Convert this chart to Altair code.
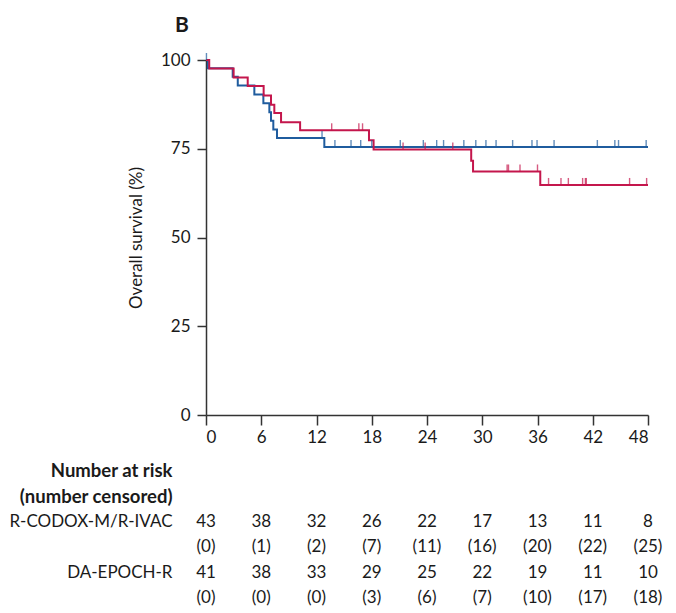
import altair as alt
import pandas as pd

FONT = "Lato"
BLUE = "#1f5c9e"
RED = "#c4164c"
AX = "#333333"
TXT = "#1a1a1a"

arms = ["R-CODOX-M/R-IVAC", "DA-EPOCH-R"]

# Kaplan-Meier step points (months, overall survival %)
codox_t = [0, 0.2, 2.9, 3.45, 5.25, 6.23, 6.88, 7.06, 7.31, 7.71, 12.85, 48]
codox_s = [100, 97.7, 95.3, 92.8, 90.3, 87.8, 85.3, 82.9, 80.4, 78.0, 75.5, 75.5]
epoch_t = [0, 0.35, 3.0, 4.53, 6.26, 7.06, 7.42, 8.15, 10.22, 17.7, 18.2, 28.8, 29.0, 36.3, 48]
epoch_s = [100, 97.6, 95.1, 92.7, 90.0, 87.4, 85.1, 82.5, 80.2, 77.4, 74.8, 71.6, 68.6, 64.8, 64.8]

# censoring times (months)
codox_cens = [0.05, 12.6, 14.0, 15.75, 16.8, 18.0, 21.1, 23.6, 25.05, 25.8, 28.0, 29.3,
              30.4, 31.5, 33.3, 35.4, 35.95, 37.8, 42.5, 44.4, 44.8, 47.8]
epoch_cens = [13.65, 16.6, 17.0, 21.4, 23.8, 26.8, 32.7, 32.85, 34.1, 36.0, 37.2, 38.55,
              39.35, 40.9, 41.2, 41.3, 46.0, 47.85]

# number at risk table
months = [0, 6, 12, 18, 24, 30, 36, 42, 48]
codox_risk = [43, 38, 32, 26, 22, 17, 13, 11, 8]
codox_censored = [0, 1, 2, 7, 11, 16, 20, 22, 25]
epoch_risk = [41, 38, 33, 29, 25, 22, 19, 11, 10]
epoch_censored = [0, 0, 0, 3, 6, 7, 10, 17, 18]

row_keys = ["h1", "h2", "codox", "codox_c", "epoch", "epoch_c"]
row_labels = ["Number at risk", "(number censored)", "R-CODOX-M/R-IVAC", "", "DA-EPOCH-R", ""]


def surv_at(ts, ss, t):
    v = ss[0]
    for ti, si in zip(ts, ss):
        if ti <= t:
            v = si
    return v


km_rows = []
for i, (t, s) in enumerate(zip(codox_t, codox_s)):
    km_rows.append({"arm": arms[0], "t": t, "s": s, "o": i})
for i, (t, s) in enumerate(zip(epoch_t, epoch_s)):
    km_rows.append({"arm": arms[1], "t": t, "s": s, "o": i})
km = pd.DataFrame(km_rows)

cens_rows = [{"arm": arms[0], "t": t, "s": surv_at(codox_t, codox_s, t)} for t in codox_cens]
cens_rows += [{"arm": arms[1], "t": t, "s": surv_at(epoch_t, epoch_s, t)} for t in epoch_cens]
cens = pd.DataFrame(cens_rows)

tab_rows = []
for m, a, b, c, d in zip(months, codox_risk, codox_censored, epoch_risk, epoch_censored):
    tab_rows.append({"m": m, "row": "codox", "txt": str(a)})
    tab_rows.append({"m": m, "row": "codox_c", "txt": f"({b})"})
    tab_rows.append({"m": m, "row": "epoch", "txt": str(c)})
    tab_rows.append({"m": m, "row": "epoch_c", "txt": f"({d})"})
tab = pd.DataFrame(tab_rows)

color = alt.Color("arm:N", scale=alt.Scale(domain=arms, range=[BLUE, RED]), legend=None)
x_scale = alt.Scale(domain=[0, 48], nice=False, zero=False)
y_scale = alt.Scale(domain=[0, 100], nice=False)

x_axis = alt.Axis(values=months, title=None, tickSize=10, labelPadding=4, grid=False,
                  domainColor=AX, tickColor=AX, domainWidth=1.5, tickWidth=1.5,
                  labelFontSize=17, labelColor=TXT, labelFont=FONT)
y_axis = alt.Axis(values=[0, 25, 50, 75, 100], title="Overall survival (%)", tickSize=9,
                  labelPadding=7, grid=False, domainColor=AX, tickColor=AX, domainWidth=1.5,
                  tickWidth=1.5, labelFontSize=17, labelColor=TXT, labelFont=FONT,
                  titleFontSize=17, titleFontWeight="normal", titleColor=TXT, titleFont=FONT,
                  titlePadding=15)

lines = alt.Chart(km).mark_line(interpolate="step-after", strokeWidth=2).encode(
    x=alt.X("t:Q", scale=x_scale, axis=x_axis),
    y=alt.Y("s:Q", scale=y_scale, axis=y_axis),
    color=color,
    order="o:Q",
)
ticks = alt.Chart(cens).mark_tick(orient="vertical", size=7, thickness=1.4, yOffset=-3.5).encode(
    x=alt.X("t:Q", scale=x_scale),
    y=alt.Y("s:Q", scale=y_scale),
    color=color,
)

top = alt.layer(lines, ticks).properties(
    width=442, height=355,
    title=alt.Title("B", anchor="start", frame="group", fontSize=21, fontWeight="bold",
                    color=TXT, font=FONT, dx=-31, offset=15),
)

label_expr = " : ".join(
    f"datum.value == '{k}' ? '{l}'" for k, l in zip(row_keys, row_labels)
) + " : ''"
hdr_test = "datum.value == 'h1' || datum.value == 'h2'"

table = alt.Chart(tab).mark_text(fontSize=17, font=FONT, color=TXT, baseline="middle").encode(
    x=alt.X("m:Q", scale=x_scale, axis=None),
    y=alt.Y("row:N", scale=alt.Scale(domain=row_keys, padding=0.5),
            axis=alt.Axis(title=None, ticks=False, domain=False, labelPadding=34,
                          labelFont=FONT, labelColor=TXT, labelLimit=400,
                          labelExpr=label_expr,
                          labelFontSize={"condition": {"test": hdr_test, "value": 18.5},
                                         "value": 17},
                          labelFontWeight={"condition": {"test": hdr_test, "value": "bold"},
                                           "value": "normal"})),
    text="txt:N",
).properties(width=442, height=153)

chart = alt.vconcat(top, table, spacing=13).configure(
    font=FONT, padding={"left": 0, "top": 7, "right": 5, "bottom": 0}
).configure_view(stroke=None)

chart.save("out.html", embed_options={"renderer": "svg", "actions": False})
